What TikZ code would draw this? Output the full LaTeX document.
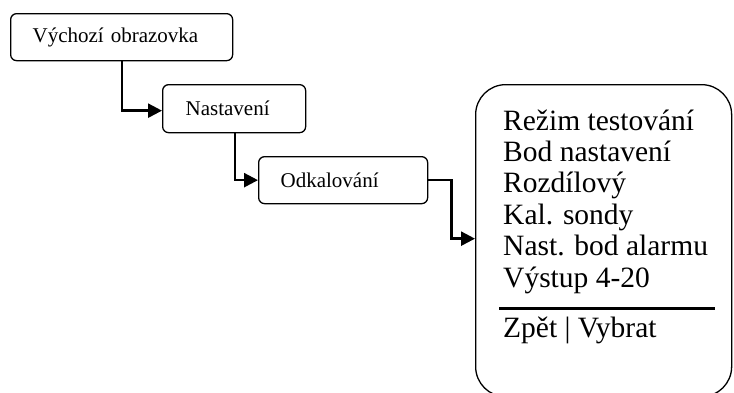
\documentclass[tikz,border=0pt]{standalone}
\usepackage{fontspec}
\setmainfont{Liberation Serif}
\usetikzlibrary{arrows.meta,positioning}
\begin{document}
\begin{tikzpicture}[x=1pt,y=-1pt,
  menubox/.style={draw,line width=1.3pt,rounded corners=6pt,anchor=north west,
    font=\fontsize{21}{24}\selectfont,align=left,inner ysep=0pt},
  conn/.style={line width=2.5pt,-{Triangle[length=14pt,width=14pt]}},
  itemtext/.style={anchor=base west,inner sep=0pt,font=\fontsize{29.5}{31}\selectfont}]
\useasboundingbox (0,0) rectangle (734,392);
\node[menubox,minimum width=222pt,minimum height=47pt,text width=178pt,inner xsep=22pt] (b1) at (10,13) {Výchozí obrazovka};
\node[menubox,minimum width=143pt,minimum height=48pt,text width=97pt,inner xsep=23pt] (b2) at (162,84) {Nastavení};
\node[menubox,minimum width=169pt,minimum height=47pt,text width=125pt,inner xsep=22pt] (b3) at (258,156) {Odkalování};
\node[draw,line width=1.3pt,rounded corners=30pt,anchor=north west,minimum width=256pt,minimum height=312pt] (big) at (475,84) {};
\foreach \t [count=\i] in {Režim testování,Bod nastavení,Rozdílový,Kal. sondy,Nast. bod alarmu,Výstup 4-20}
  \node[itemtext] (l\i) at (503,{130+31.4*(\i-1)}) {\t};
\node[itemtext] (back) at (503,337) {Zpět | Vybrat};
\coordinate (sepL) at (499,308);
\coordinate (sepR) at (715,308);
\draw[line width=3pt] (sepL) -- (sepR);
\draw[conn] ([xshift=112pt]b1.south west) |- ([yshift=-2pt]b2.west);
\draw[conn] ([xshift=73pt]b2.south west) |- (b3.west);
\coordinate (turn) at ([xshift=23pt]b3.east);
\draw[conn] (b3.east) -- (turn) |- ([yshift=2pt]big.west);
\end{tikzpicture}
\end{document}
